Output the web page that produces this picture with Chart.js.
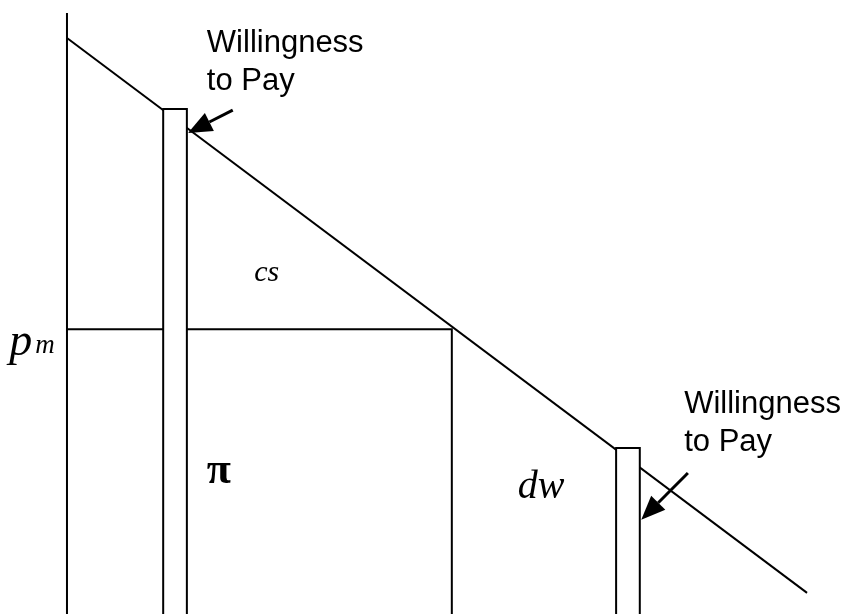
<!DOCTYPE html>
<html>
<head>
<meta charset="utf-8">
<script src="https://cdn.jsdelivr.net/npm/chart.js@4.4.1/dist/chart.umd.min.js"></script>
<style>
  html, body { margin: 0; padding: 0; background: #fff; }
  #wrap { width: 867px; height: 614px; }
</style>
</head>
<body>
<div id="wrap"><canvas id="chart-monopoly" width="867" height="614"></canvas></div>
<script>
// demand curve P = 10 - Q
var demandQ = [0, 10];
var demandP = [10, 0];

// monopoly price / quantity
var pm = 4.75;
var qm = 5.2;

// vertical price axis
var axisTop = 10.45;

// willingness-to-pay bars (left, right, top)
var barLeft = [1.30, 7.42];
var barRight = [1.62, 7.74];
var barTop = [8.72, 2.61];

// arrows: from -> to
var arrowFromQ = [2.24, 8.39];
var arrowFromP = [8.70, 2.16];
var arrowToQ = [1.635, 7.76];
var arrowToP = [8.29, 1.32];

// text labels
var wtpLabelQ = [1.89, 8.34];
var wtpLabelP = [9.75, 3.24];
var wtpLines = ['Willingness', 'to Pay'];

var bottomP = -1;

function pts(xs, ys) {
    return xs.map(function (x, i) { return { x: x, y: ys[i] }; });
}

var datasets = [];
for (var b = 0; b < barLeft.length; b++) {
    datasets.push({
        label: 'wtp' + b,
        data: pts([barLeft[b], barLeft[b], barRight[b], barRight[b]],
                  [bottomP, barTop[b], barTop[b], bottomP]),
        borderColor: '#000',
        borderWidth: 2,
        backgroundColor: '#fff',
        fill: 'start'
    });
}
datasets.push({
    label: 'pm',
    data: pts([0, qm, qm], [pm, pm, bottomP]),
    borderColor: '#000',
    borderWidth: 2,
    fill: false
});
datasets.push({
    label: 'demand',
    data: pts(demandQ, demandP),
    borderColor: '#000',
    borderWidth: 2,
    fill: false
});
datasets.push({
    label: 'axis',
    data: pts([0, 0], [axisTop, bottomP]),
    borderColor: '#000',
    borderWidth: 2,
    fill: false
});

var labelsPlugin = {
    id: 'labels',
    afterDatasetsDraw: function (chart) {
        var ctx = chart.ctx;
        var xs = chart.scales.x, ys = chart.scales.y;
        ctx.save();
        ctx.fillStyle = '#000';
        ctx.strokeStyle = '#000';

        // arrows
        for (var i = 0; i < arrowFromQ.length; i++) {
            var x1 = xs.getPixelForValue(arrowFromQ[i]), y1 = ys.getPixelForValue(arrowFromP[i]);
            var x2 = xs.getPixelForValue(arrowToQ[i]), y2 = ys.getPixelForValue(arrowToP[i]);
            var a = Math.atan2(y2 - y1, x2 - x1);
            var len = 24, half = 10;
            var bx = x2 - len * Math.cos(a), by = y2 - len * Math.sin(a);
            ctx.lineWidth = 3;
            ctx.beginPath();
            ctx.moveTo(x1, y1);
            ctx.lineTo(bx, by);
            ctx.stroke();
            ctx.beginPath();
            ctx.moveTo(x2, y2);
            ctx.lineTo(bx + half * Math.sin(a), by - half * Math.cos(a));
            ctx.lineTo(bx - half * Math.sin(a), by + half * Math.cos(a));
            ctx.closePath();
            ctx.fill();
        }

        ctx.textBaseline = 'alphabetic';
        ctx.textAlign = 'left';
        ctx.font = '31px "Liberation Sans", Arial, sans-serif';
        for (var j = 0; j < wtpLabelQ.length; j++) {
            var lx = xs.getPixelForValue(wtpLabelQ[j]);
            var ly = ys.getPixelForValue(wtpLabelP[j]);
            ctx.fillText(wtpLines[0], lx, ly);
            ctx.fillText(wtpLines[1], lx, ly + 38);
        }

        ctx.font = 'italic 30px "Liberation Serif", "Times New Roman", serif';
        ctx.fillText('cs', xs.getPixelForValue(2.53), ys.getPixelForValue(5.63));

        ctx.font = 'italic 40px "Liberation Serif", "Times New Roman", serif';
        ctx.fillText('dw', xs.getPixelForValue(6.09), ys.getPixelForValue(1.71));

        ctx.font = 'bold 44px "Liberation Serif", "Times New Roman", serif';
        ctx.fillText('\u03c0', xs.getPixelForValue(1.89), ys.getPixelForValue(1.98));

        ctx.font = 'italic 46px "Liberation Serif", "Times New Roman", serif';
        var px = xs.getPixelForValue(-0.78), py = ys.getPixelForValue(pm) + 26;
        ctx.fillText('p', px, py);
        ctx.font = 'italic 27px "Liberation Serif", "Times New Roman", serif';
        ctx.fillText('m', px + 26, py - 2);
        ctx.restore();
    }
};

var config = {
    type: 'scatter',
    data: { datasets: datasets },
    options: {
        responsive: false,
        animation: false,
        showLine: true,
        layout: { padding: 0 },
        elements: {
            point: { radius: 0, hoverRadius: 0 },
            line: { tension: 0, borderCapStyle: 'butt', borderJoinStyle: 'miter' }
        },
        scales: {
            x: { type: 'linear', min: -0.905, max: 10.81, display: false },
            y: { type: 'linear', min: -0.38, max: 10.685, display: false }
        },
        plugins: {
            legend: { display: false },
            tooltip: { enabled: false },
            filler: { drawTime: 'beforeDatasetDraw' }
        }
    },
    plugins: [labelsPlugin]
};

var ctx = document.getElementById('chart-monopoly').getContext('2d');
new Chart(ctx, config);
</script>
</body>
</html>
